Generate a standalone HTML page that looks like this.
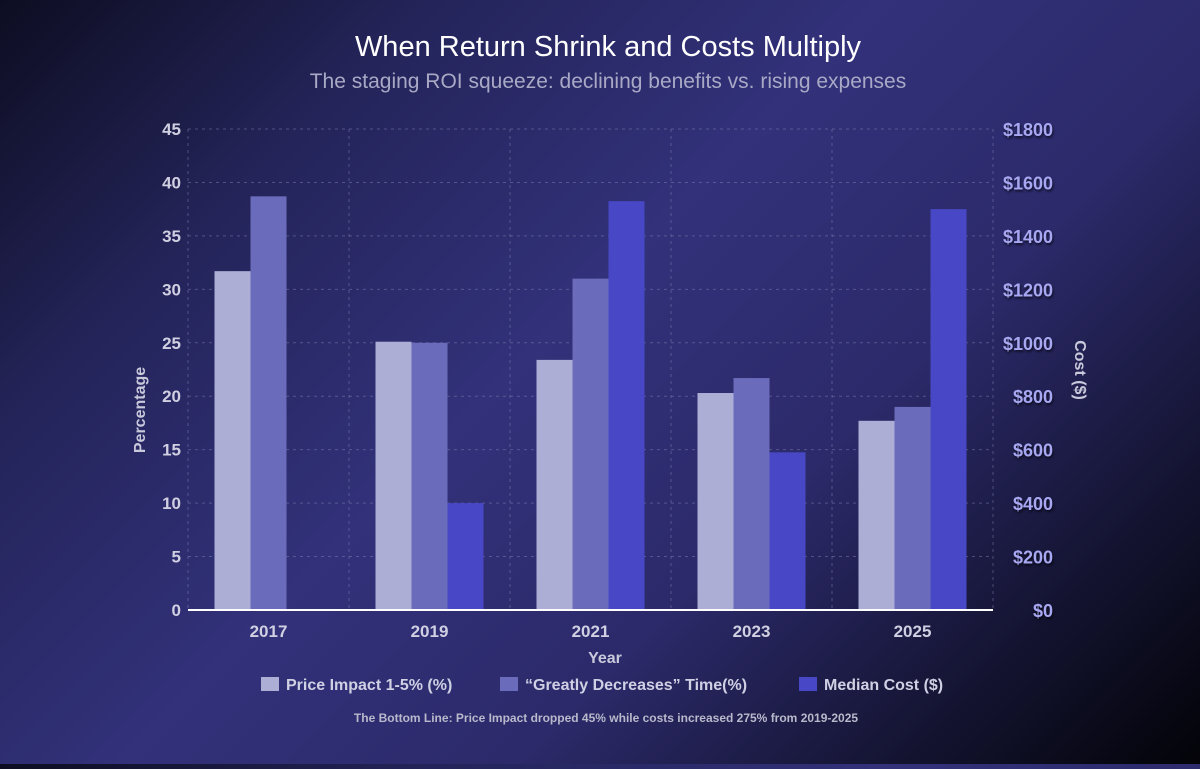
<!DOCTYPE html>
<html><head><meta charset="utf-8"><style>
html,body{margin:0;padding:0;}
body{width:1200px;height:764px;overflow:hidden;font-family:"Liberation Sans",sans-serif;
background:linear-gradient(135deg,#0d0d22 0%,#24245a 22%,#32317a 45%,#2c2a6a 65%,#131330 85%,#030308 100%);}
</style></head><body>
<svg id="chart" width="1200" height="764" xmlns="http://www.w3.org/2000/svg">
<text x="608" y="56" text-anchor="middle" fill="#ffffff" font-size="29">When Return Shrink and Costs Multiply</text>
<text x="608" y="88" text-anchor="middle" fill="#a9a9c6" font-size="21">The staging ROI squeeze: declining benefits vs. rising expenses</text>
<g id="grid"></g>
<g id="bars"></g>
<g id="axes"></g>
<text transform="translate(145,410) rotate(-90)" text-anchor="middle" fill="#c9c9dc" font-size="16" font-weight="bold">Percentage</text>
<text transform="translate(1075,370) rotate(90)" text-anchor="middle" fill="#c9c9dc" font-size="16" font-weight="bold">Cost  ($)</text>
<text x="605" y="663" text-anchor="middle" fill="#c9c9dc" font-size="16" font-weight="bold">Year</text>
<g font-size="16" font-weight="bold" fill="#d0d0e4">
<g><rect x="261" y="677" width="18" height="14" fill="#adaed6"/><text x="286" y="690">Price Impact 1-5% (%)</text></g>
<g><rect x="500" y="677" width="18" height="14" fill="#6a6bbb"/><text x="525" y="690">“Greatly Decreases” Time(%)</text></g>
<g><rect x="799" y="677" width="18" height="14" fill="#4848c6"/><text x="824" y="690">Median Cost ($)</text></g>
</g>
<text x="606" y="722" text-anchor="middle" fill="#b9b9cc" font-size="12" font-weight="bold">The Bottom Line:  Price Impact dropped 45% while costs  increased 275% from 2019-2025</text>
</svg>
<script>
const categories=["2017","2019","2021","2023","2025"];
const priceImpact=[31.7,25.1,23.4,20.3,17.7];
const decreasesTime=[38.7,25.0,31.0,21.7,19.0];
const medianCost=[0,400,1530,590,1500];
const leftTicks=[0,5,10,15,20,25,30,35,40,45];
const rightTicks=[0,200,400,600,800,1000,1200,1400,1600,1800];
const NS="http://www.w3.org/2000/svg";
const X0=188,X1=993,Y0=610,Y1=129;
const bw=(X1-X0)/categories.length;
const yL=v=>Y0-(v/45)*(Y0-Y1);
const yR=v=>Y0-(v/1800)*(Y0-Y1);
const xC=i=>X0+bw*(i+0.5);
function mk(t,a,p){const e=document.createElementNS(NS,t);for(const k in a)e.setAttribute(k,a[k]);p.appendChild(e);return e;}
const grid=document.getElementById('grid'),bars=document.getElementById('bars'),axes=document.getElementById('axes');
leftTicks.forEach((v,i)=>{
 const l=mk('line',{x1:X0,x2:X1,y1:yL(v),y2:yL(v),stroke:'#8a8ab8','stroke-opacity':0.45,'stroke-dasharray':'3,4'},grid);
 
 
 const t=mk('text',{x:181,y:yL(v)+6,'text-anchor':'end',fill:'#d0d0e2','font-size':17,'font-weight':'bold'},axes);
 t.textContent=v;
 
 
});
rightTicks.forEach(v=>{
 const t=mk('text',{x:1053,y:yR(v)+7,'text-anchor':'end',fill:'#a8a8f2','font-size':18,'font-weight':'bold',style:'text-shadow:1px 2px 2px rgba(0,0,0,0.6)'},axes);
 t.textContent='$'+v;
 
 
});
for(let i=0;i<=categories.length;i++){
 const l=mk('line',{x1:X0+bw*i,x2:X0+bw*i,y1:Y1,y2:Y0,stroke:'#8a8ab8','stroke-opacity':0.45,'stroke-dasharray':'3,4'},grid);
 
 
}
const w=36;
categories.forEach((c,i)=>{
 const cx=xC(i);
 const specs=[[priceImpact[i],yL,'#adaed6','bar-price-impact-'+c],[decreasesTime[i],yL,'#6a6bbb','bar-decreases-time-'+c],[medianCost[i],yR,'#4848c6','bar-median-cost-'+c]];
 specs.forEach((s,j)=>{
  const y=s[1](s[0]);
  const r=mk('rect',{x:cx-1.5*w+j*w,y:y,width:w,height:Math.max(0,Y0-y),fill:s[2]},bars);
  
  
 });
 const t=mk('text',{x:cx,y:637,'text-anchor':'middle',fill:'#d0d0e2','font-size':17,'font-weight':'bold'},axes);
 t.textContent=c;
 
 
});
const ax=mk('line',{x1:X0,x2:X1,y1:Y0,y2:Y0,stroke:'#ffffff','stroke-width':2},axes);


</script>
</body></html>
